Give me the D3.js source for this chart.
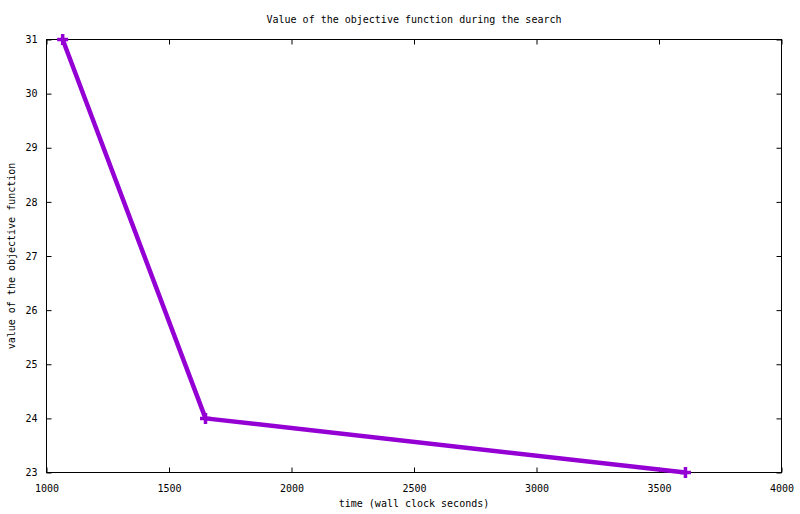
<!DOCTYPE html>
<html>
<head>
<meta charset="utf-8">
<script src="https://cdn.jsdelivr.net/npm/d3@7"></script>
<style>
  body { margin: 0; background: #fff; }
  text { font-family: "DejaVu Sans Mono", monospace; font-size: 10px; fill: #000; }
</style>
</head>
<body>
<div id="chart"></div>
<script>
// data
const times = [1066, 1649, 3608];
const objective = [31, 24, 23];
const xTicks = [1000, 1500, 2000, 2500, 3000, 3500, 4000];
const yTicks = [23, 24, 25, 26, 27, 28, 29, 30, 31];

const width = 800, height = 514;
const plotLeft = 46.5, plotRight = 781.5, plotTop = 39.5, plotBottom = 472.5;

let svg = d3.select("#chart")
    .append("svg")
    .attr("width", width)
    .attr("height", height);

let x = d3.scaleLinear().domain([1000, 4000]).range([plotLeft, plotRight]);
let y = d3.scaleLinear().domain([23, 31]).range([plotBottom, plotTop]);

//frame
svg.append("rect")
    .attr("x", plotLeft)
    .attr("y", plotTop)
    .attr("width", plotRight - plotLeft)
    .attr("height", plotBottom - plotTop)
    .attr("fill", "none")
    .attr("stroke", "#000")
    .attr("stroke-width", 1);

//ticks on all four sides, pointing inward
const tickLen = 5;
let axisStyle = g => {
    g.select(".domain").remove();
    g.selectAll("line").attr("stroke", "#000");
    g.selectAll("text").style("font-family", "DejaVu Sans Mono, monospace").style("font-size", "10px");
};

svg.append("g")
    .attr("transform", `translate(0,${plotBottom})`)
    .call(d3.axisBottom(x).tickValues(xTicks).tickSize(-tickLen).tickPadding(12).tickFormat(d3.format("d")))
    .call(axisStyle);

svg.append("g")
    .attr("transform", `translate(0,${plotTop})`)
    .call(d3.axisTop(x).tickValues(xTicks).tickSize(-tickLen).tickFormat(""))
    .call(axisStyle);

svg.append("g")
    .attr("transform", `translate(${plotLeft},0)`)
    .call(d3.axisLeft(y).tickValues(yTicks).tickSize(-tickLen).tickPadding(9).tickFormat(d3.format("d")))
    .call(axisStyle);

svg.append("g")
    .attr("transform", `translate(${plotRight},0)`)
    .call(d3.axisRight(y).tickValues(yTicks).tickSize(-tickLen).tickFormat(""))
    .call(axisStyle);

//series
const points = times.map((t, i) => [t, objective[i]]);
const color = "#9400d3";

svg.append("path")
    .datum(points)
    .attr("d", d3.line().x(d => x(d[0])).y(d => y(d[1])))
    .attr("fill", "none")
    .attr("stroke", color)
    .attr("stroke-width", 4.5)
    .attr("stroke-linejoin", "round");

svg.selectAll(".pt")
    .data(points)
    .join("path")
    .attr("class", "pt")
    .attr("d", d => {
        const cx = x(d[0]), cy = y(d[1]), r = 5.5;
        return `M${cx - r},${cy}H${cx + r}M${cx},${cy - r}V${cy + r}`;
    })
    .attr("stroke", color)
    .attr("stroke-width", 3.5);

//labels
svg.append("text")
    .attr("x", (plotLeft + plotRight) / 2)
    .attr("y", 23)
    .attr("text-anchor", "middle")
    .text("Value of the objective function during the search");

svg.append("text")
    .attr("x", (plotLeft + plotRight) / 2)
    .attr("y", 507)
    .attr("text-anchor", "middle")
    .text("time (wall clock seconds)");

svg.append("text")
    .attr("transform", `translate(15,${(plotTop + plotBottom) / 2}) rotate(-90)`)
    .attr("text-anchor", "middle")
    .text("value of the objective function");
</script>
</body>
</html>
